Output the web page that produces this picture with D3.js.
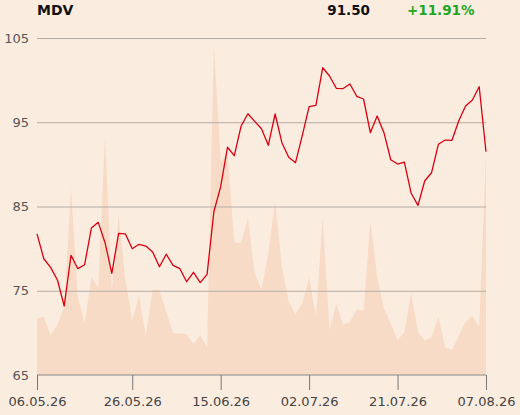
<!DOCTYPE html>
<html>
<head>
<meta charset="utf-8">
<script src="https://cdn.jsdelivr.net/npm/d3@7"></script>
<style>
  html, body { margin: 0; padding: 0; background: #FBECE0; }
  svg { display: block; font-family: "DejaVu Sans", sans-serif; }
</style>
</head>
<body>
<svg id="chart" width="520" height="415"></svg>
<script>
const title = "MDV";
const lastValue = "91.50";
const changeText = "+11.91%";

const dates = [
  "06.05.26","07.05.26","08.05.26","11.05.26","12.05.26","13.05.26","14.05.26","15.05.26","18.05.26","19.05.26",
  "20.05.26","21.05.26","22.05.26","25.05.26","26.05.26","27.05.26","28.05.26","29.05.26","01.06.26","02.06.26",
  "03.06.26","05.06.26","08.06.26","09.06.26","10.06.26","11.06.26","12.06.26","15.06.26","16.06.26","17.06.26",
  "18.06.26","19.06.26","22.06.26","23.06.26","24.06.26","25.06.26","26.06.26","29.06.26","30.06.26","01.07.26",
  "02.07.26","03.07.26","06.07.26","07.07.26","08.07.26","09.07.26","10.07.26","13.07.26","14.07.26","15.07.26",
  "16.07.26","17.07.26","20.07.26","21.07.26","22.07.26","23.07.26","24.07.26","27.07.26","28.07.26","29.07.26",
  "30.07.26","31.07.26","03.08.26","04.08.26","05.08.26","06.08.26","07.08.26"
];

const prices = [
  81.76, 78.80, 77.78, 76.28, 73.19, 79.21, 77.62, 78.09, 82.45, 83.12,
  80.70, 77.07, 81.82, 81.74, 79.99, 80.51, 80.31, 79.60, 77.85, 79.33,
  78.02, 77.62, 76.07, 77.19, 75.96, 76.95, 84.38, 87.35, 92.03, 91.03,
  94.55, 96.01, 95.11, 94.23, 92.26, 95.98, 92.57, 90.84, 90.20, 93.45,
  96.85, 97.01, 101.47, 100.49, 99.03, 99.00, 99.54, 98.08, 97.76, 93.76,
  95.74, 93.76, 90.55, 90.04, 90.28, 86.57, 85.14, 88.06, 89.01, 92.38,
  92.89, 92.86, 95.18, 96.93, 97.64, 99.22, 91.50
];

const volumes = [
  16.8, 17.3, 11.9, 14.8, 20.3, 55.4, 23.2, 15.5, 29.0, 26.0,
  70.9, 25.2, 47.2, 28.2, 16.0, 23.7, 11.6, 25.4, 25.2, 18.8,
  12.4, 12.4, 12.2, 9.2, 11.9, 8.2, 98.4, 63.5, 66.2, 39.5,
  39.1, 46.5, 30.2, 25.4, 36.1, 51.7, 32.1, 21.8, 18.1, 21.3,
  29.0, 17.5, 46.5, 13.4, 21.1, 14.8, 15.8, 19.5, 19.0, 45.8,
  29.2, 19.8, 15.3, 10.4, 12.6, 24.4, 12.8, 10.2, 11.2, 17.1,
  8.2, 7.4, 11.6, 15.8, 17.5, 14.2, 66.0
];

const yTicks = [65, 75, 85, 95, 105];
const xTickLabels = ["06.05.26", "26.05.26", "15.06.26", "02.07.26", "21.07.26", "07.08.26"];

const svg = d3.select("#chart");
const mLeft = 37, mRight = 486, mTop = 38, mBottom = 375;

const x = d3.scalePoint().domain(dates).range([mLeft, mRight]);
const y = d3.scaleLinear().domain([65, 105]).range([mBottom, mTop]);
const yv = d3.scaleLinear().domain([0, 100]).range([mBottom, mTop]);

const data = dates.map((d, i) => ({ d, p: prices[i], v: volumes[i] }));

// volume area
svg.append("path")
  .datum(data)
  .attr("fill", "#F8DBC6")
  .attr("d", d3.area().x(d => x(d.d)).y0(mBottom).y1(d => yv(d.v)));

// grid lines
const yAxis = d3.axisLeft(y).tickValues(yTicks).tickSize(-(mRight - mLeft)).tickPadding(8).tickFormat(d3.format("d"));
const gy = svg.append("g").attr("transform", `translate(${mLeft},0)`).call(yAxis);
gy.select(".domain").remove();
gy.selectAll(".tick line").attr("stroke", "#B5ADA6").attr("stroke-width", 1);
gy.selectAll(".tick text").attr("fill", "#555").style("font-size", "13px").style("font-family", "DejaVu Sans");
gy.selectAll(".tick").filter(d => d === 65).select("line").remove();

// x axis
const xAxis = d3.axisBottom(x).tickValues(xTickLabels).tickSize(15).tickPadding(7);
const gx = svg.append("g").attr("transform", `translate(0,${mBottom})`).call(xAxis);
gx.select(".domain").attr("stroke", "#888").attr("d", `M${mLeft},0H${mRight}`);
gx.selectAll(".tick line").attr("stroke", "#777");
gx.selectAll(".tick text").attr("fill", "#444").style("font-size", "13px").style("font-family", "DejaVu Sans");

// price line
svg.append("path")
  .datum(data)
  .attr("fill", "none")
  .attr("stroke", "#D80010")
  .attr("stroke-width", 1.3)
  .attr("stroke-linejoin", "round")
  .attr("d", d3.line().x(d => x(d.d)).y(d => y(d.p)));

// header
svg.append("text").attr("x", 37).attr("y", 15)
  .style("font-size", "14px").style("font-weight", "bold").attr("fill", "#111").text(title);
svg.append("text").attr("x", 370).attr("y", 15).attr("text-anchor", "end")
  .style("font-size", "13.5px").style("font-weight", "bold").attr("fill", "#111").text(lastValue);
svg.append("text").attr("x", 407).attr("y", 15)
  .style("font-size", "13.5px").style("font-weight", "bold").attr("fill", "#1FA81F").text(changeText);
</script>
</body>
</html>
